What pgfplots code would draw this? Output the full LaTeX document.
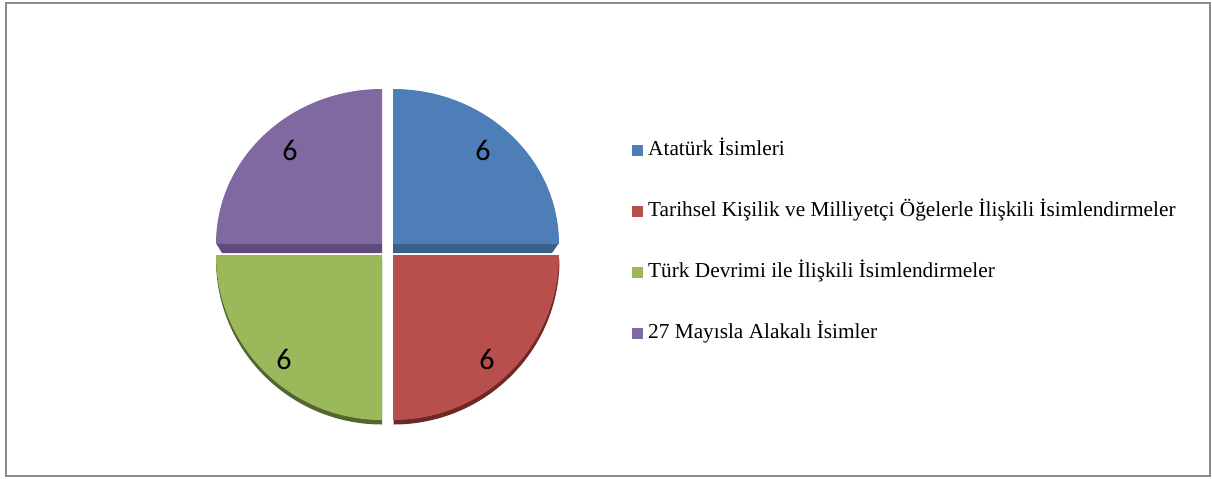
\documentclass[border=0pt]{standalone}
\usepackage{pgfplots}
\pgfplotsset{compat=1.18}
\usepackage{fontspec}
\setmainfont{Liberation Serif}
\newfontfamily\calibri{Carlito}
\definecolor{cA}{HTML}{4D7EB8}
\definecolor{cAd}{HTML}{3A5F8A}
\definecolor{cB}{HTML}{B94F4C}
\definecolor{cBd}{HTML}{6B2A28}
\definecolor{cC}{HTML}{9BB85B}
\definecolor{cCd}{HTML}{55652F}
\definecolor{cD}{HTML}{8068A0}
\definecolor{cDd}{HTML}{5F4A79}
\definecolor{frame}{HTML}{8C8C8C}
% slice values
\def\vA{6}\def\vB{6}\def\vC{6}\def\vD{6}
\pgfmathsetmacro\tot{\vA+\vB+\vC+\vD}
\pgfmathsetmacro\aA{90}
\pgfmathsetmacro\aB{\aA-360*\vA/\tot}
\pgfmathsetmacro\aC{\aB-360*\vB/\tot}
\pgfmathsetmacro\aD{\aC-360*\vC/\tot}
\pgfmathsetmacro\aE{\aD-360*\vD/\tot}
\begin{document}
\begin{tikzpicture}
\begin{axis}[
  width=606pt, height=239pt, scale only axis,
  xmin=0, xmax=1212, ymin=0, ymax=478, y dir=reverse,
  hide axis, clip=false,
  legend style={at={(axis cs:632,140)}, anchor=north west, draw=none, fill=none,
    inner sep=0pt, row sep=20.5pt, column sep=2.5pt,
    font=\fontsize{10.65}{12}\selectfont,
    nodes={inner sep=0pt, text height=7.5pt, text depth=2.5pt}},
  legend cell align=left,
  legend image code/.code={\fill[#1] (0pt,-2.5pt) rectangle (5pt,2.5pt);},
]
\path (axis cs:0,0) rectangle (axis cs:1212,478);
\draw[frame, line width=1pt] (axis cs:6,2.5) rectangle (axis cs:1209.5,476);

% bottom slices: shadow rim first
\fill[cBd] (axis cs:393.5,259.5) -- (axis cs:{393.5+166*cos(\aB)},{259.5-165*sin(\aB)})
   arc[start angle=\aB, end angle=\aC, x radius=83pt, y radius=82.5pt] -- cycle;
\fill[cCd] (axis cs:382,259.5) -- (axis cs:{382+166*cos(\aC)},{259.5-165*sin(\aC)})
   arc[start angle=\aC, end angle=\aD, x radius=83pt, y radius=82.5pt] -- cycle;
% red
\fill[cB] (axis cs:393,255) -- (axis cs:{393+166*cos(\aB)},{255-165*sin(\aB)})
   arc[start angle=\aB, end angle=\aC, x radius=83pt, y radius=82.5pt] -- cycle;
% green
\fill[cC] (axis cs:382,255) -- (axis cs:{382+166*cos(\aC)},{255-165*sin(\aC)})
   arc[start angle=\aC, end angle=\aD, x radius=83pt, y radius=82.5pt] -- cycle;

% top slices: side bands
\fill[cAd] (axis cs:393,243) -- (axis cs:559,243) -- (axis cs:552,253) -- (axis cs:393,253) -- cycle;
\fill[cDd] (axis cs:382,243) -- (axis cs:216,243) -- (axis cs:222,253) -- (axis cs:382,253) -- cycle;
% blue
\fill[cA] (axis cs:393,244) -- (axis cs:{393+166*cos(\aA)},{244-155*sin(\aA)})
   arc[start angle=\aA, end angle=\aB, x radius=83pt, y radius=77.5pt] -- cycle;
% purple
\fill[cD] (axis cs:382,244) -- (axis cs:{382+166*cos(\aD)},{244-155*sin(\aD)})
   arc[start angle=\aD, end angle=\aE, x radius=83pt, y radius=77.5pt] -- cycle;

% data labels
\addplot[forget plot, draw=none, mark=none, point meta=explicit symbolic,
  nodes near coords, nodes near coords style={anchor=center, inner sep=0pt,
  font=\calibri\fontsize{15}{16}\selectfont, text=black}]
  coordinates {(483,150)[6] (487,359)[6] (284,359)[6] (290,150)[6]};

\addlegendimage{cA}
\addlegendentry{Atatürk İsimleri}
\addlegendimage{cB}
\addlegendentry{Tarihsel Kişilik ve Milliyetçi Öğelerle İlişkili İsimlendirmeler}
\addlegendimage{cC}
\addlegendentry{Türk Devrimi ile İlişkili İsimlendirmeler}
\addlegendimage{cD}
\addlegendentry{27 Mayısla Alakalı İsimler}
\end{axis}
\end{tikzpicture}
\end{document}
